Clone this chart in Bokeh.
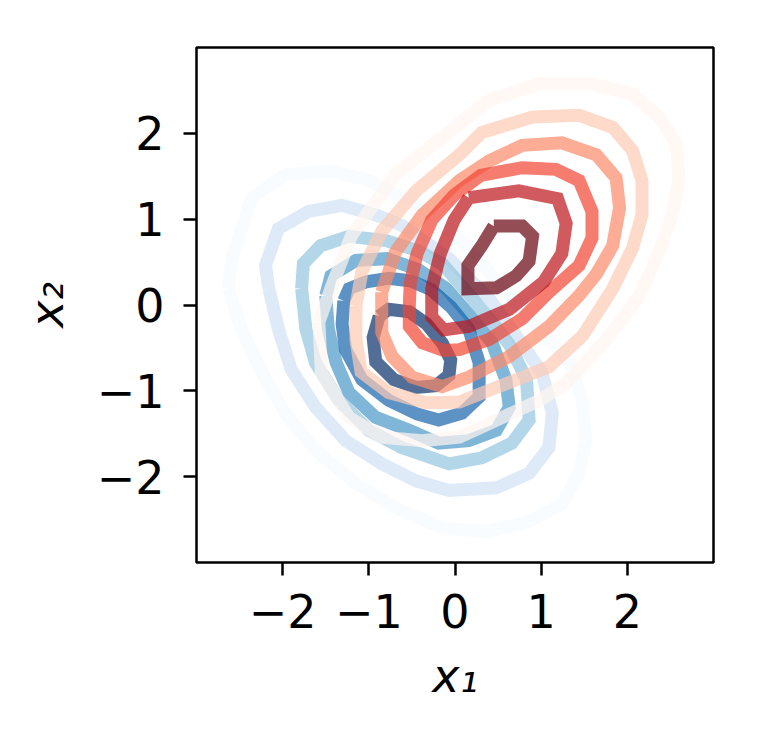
from bokeh.plotting import figure
from bokeh.models import FixedTicker, Range1d
from bokeh.embed import file_html
from bokeh.resources import INLINE

# ---- data (contour loops, data coordinates) ----
tick_values = [-2, -1, 0, 1, 2]
tick_labels = ["\u22122", "\u22121", "0", "1", "2"]

# Blue density contours, outer (level 0.0) -> inner (level 1.0)
blue_x = [
    [-2.63, -2.59, -2.36, -1.97, -1.43, -1.00, -0.53, -0.01, 0.51, 0.98, 1.33, 1.48, 1.52, 1.44, 1.24, 0.86, 0.36, -0.15, -0.69, -1.15, -1.62, -1.97, -2.24, -2.48],
    [-2.16, -2.20, -2.05, -1.70, -1.31, -0.92, -0.62, -0.07, 0.40, 0.74, 1.01, 1.13, 1.09, 0.86, 0.48, -0.07, -0.45, -0.85, -1.27, -1.62, -1.90, -2.05],
    [-1.78, -1.76, -1.56, -1.23, -0.80, -0.45, -0.15, 0.16, 0.42, 0.63, 0.83, 0.86, 0.66, 0.31, -0.07, -0.62, -1.00, -1.35, -1.62, -1.73],
    [-1.50, -1.44, -1.15, -0.79, -0.42, -0.10, 0.16, 0.43, 0.59, 0.63, 0.48, 0.16, -0.19, -0.53, -0.92, -1.23, -1.38, -1.47],
    [-1.29, -1.23, -1.03, -0.77, -0.51, -0.28, -0.05, 0.16, 0.28, 0.28, 0.08, -0.19, -0.44, -0.77, -1.08, -1.27, -1.31],
    [-0.88, -0.77, -0.53, -0.33, -0.15, -0.05, -0.07, -0.22, -0.45, -0.71, -0.92, -0.95],
]
blue_y = [
    [0.19, 0.54, 1.25, 1.52, 1.56, 1.45, 1.21, 0.84, 0.25, -0.28, -0.67, -1.14, -1.58, -1.96, -2.32, -2.52, -2.64, -2.60, -2.36, -2.08, -1.69, -1.26, -0.79, -0.28],
    [0.19, 0.46, 0.89, 1.09, 1.16, 1.05, 0.93, 0.54, 0.07, -0.40, -0.79, -1.26, -1.66, -1.96, -2.13, -2.16, -2.05, -1.85, -1.58, -1.19, -0.75, -0.28],
    [0.19, 0.48, 0.69, 0.80, 0.75, 0.64, 0.48, 0.13, -0.19, -0.46, -0.87, -1.34, -1.61, -1.78, -1.85, -1.66, -1.46, -1.11, -0.67, -0.28],
    [0.11, 0.34, 0.52, 0.54, 0.41, 0.19, -0.11, -0.44, -0.87, -1.19, -1.46, -1.58, -1.61, -1.46, -1.31, -1.02, -0.67, -0.28],
    [0.05, 0.19, 0.27, 0.31, 0.28, 0.18, -0.02, -0.28, -0.67, -1.07, -1.26, -1.34, -1.27, -1.11, -0.87, -0.52, -0.22],
    [-0.13, -0.05, -0.08, -0.22, -0.44, -0.64, -0.82, -0.94, -0.96, -0.87, -0.66, -0.38],
]

# Red density contours, outer (level 0.0) -> inner (level 1.0)
red_x = [
    [-1.58, -1.55, -1.23, -0.85, -0.38, 0.05, 0.40, 0.98, 1.29, 1.76, 2.14, 2.37, 2.52, 2.60, 2.57, 2.37, 2.06, 1.56, 0.98, 0.40, -0.19, -0.69, -1.20, -1.43],
    [-1.15, -1.15, -1.09, -0.77, -0.34, 0.05, 0.51, 1.09, 1.48, 1.83, 2.06, 2.17, 2.17, 2.06, 1.83, 1.44, 0.90, 0.31, 0.05, -0.45, -0.85, -1.08],
    [-0.85, -0.85, -0.73, -0.50, -0.15, 0.16, 0.63, 1.09, 1.44, 1.64, 1.83, 1.91, 1.87, 1.64, 1.24, 0.78, 0.40, 0.05, -0.38, -0.69],
    [-0.53, -0.53, -0.38, -0.13, 0.05, 0.40, 0.78, 1.09, 1.44, 1.59, 1.59, 1.44, 1.17, 0.78, 0.30, -0.01, -0.27, -0.44, -0.52],
    [0.16, 0.74, 1.19, 1.29, 1.24, 1.03, 0.63, 0.16, -0.13, -0.27, -0.27, -0.17, -0.01],
    [0.45, 0.78, 0.90, 0.86, 0.71, 0.48, 0.15, 0.15, 0.31],
]
red_y = [
    [-0.20, -0.79, -1.31, -1.54, -1.58, -1.54, -1.38, -1.11, -0.91, -0.40, 0.11, 0.62, 1.05, 1.48, 1.87, 2.19, 2.46, 2.58, 2.58, 2.39, 1.92, 1.52, 0.81, 0.22],
    [-0.01, -0.40, -0.78, -1.02, -1.14, -1.13, -0.95, -0.72, -0.36, 0.19, 0.66, 1.05, 1.45, 1.80, 2.07, 2.21, 2.19, 2.01, 1.75, 1.33, 0.86, 0.39],
    [0.15, -0.32, -0.60, -0.84, -0.95, -0.84, -0.60, -0.25, 0.11, 0.36, 0.69, 1.13, 1.48, 1.75, 1.89, 1.86, 1.68, 1.45, 1.05, 0.62],
    [-0.01, -0.25, -0.44, -0.53, -0.52, -0.40, -0.16, 0.15, 0.46, 0.78, 1.09, 1.45, 1.58, 1.60, 1.51, 1.28, 0.99, 0.60, 0.25],
    [1.25, 1.33, 1.24, 0.95, 0.60, 0.27, -0.05, -0.25, -0.29, -0.14, 0.19, 0.60, 0.99],
    [0.92, 0.92, 0.80, 0.51, 0.34, 0.20, 0.19, 0.46, 0.69],
]

# colormap samples (Blues / Reds at 0, .2, .4, .6, .8, 1)
blue_colors = ["#f7fbff", "#d0e1f4", "#94c4df", "#4a98c9", "#1764ab", "#08306b"]
red_colors = ["#fff5f0", "#fdcab5", "#fc8a6a", "#f14432", "#bc141a", "#67000d"]


def closed(loops):
    return [list(l) + [l[0]] for l in loops]


p = figure(width=748, height=721, output_backend="svg", toolbar_location=None,
           x_range=Range1d(-3, 3), y_range=Range1d(-3, 3),
           min_border_left=196, min_border_right=35, min_border_top=47, min_border_bottom=159)

p.multi_line(xs=closed(blue_x), ys=closed(blue_y), line_color=blue_colors,
             line_width=13, line_alpha=0.7, line_join="miter")
p.multi_line(xs=closed(red_x), ys=closed(red_y), line_color=red_colors,
             line_width=13, line_alpha=0.7, line_join="miter")

p.grid.visible = False
p.outline_line_color = "black"
p.outline_line_width = 2.5
p.background_fill_color = "white"
p.border_fill_color = "white"

for ax in (p.xaxis[0], p.yaxis[0]):
    ax.ticker = FixedTicker(ticks=tick_values)
    ax.major_label_overrides = {v: s for v, s in zip(tick_values, tick_labels)}
    ax.minor_tick_line_color = None
    ax.axis_line_color = None
    ax.major_tick_in = 0
    ax.major_tick_out = 13
    ax.major_tick_line_width = 2.5
    ax.major_tick_line_color = "black"
    ax.major_label_text_font = "DejaVu Sans"
    ax.major_label_text_font_size = "46px"
    ax.major_label_text_color = "black"
    ax.axis_label_text_font = "DejaVu Sans"
    ax.axis_label_text_font_size = "46px"
    ax.axis_label_text_font_style = "italic"
    ax.axis_label_text_color = "black"

p.xaxis.axis_label = "x\u2081"
p.yaxis.axis_label = "x\u2082"
p.xaxis.major_label_standoff = 18
p.yaxis.major_label_standoff = 19
p.xaxis.axis_label_standoff = 18
p.yaxis.axis_label_standoff = 20
p.yaxis.major_label_orientation = "horizontal"

open("out.html", "w").write(file_html(p, INLINE))
